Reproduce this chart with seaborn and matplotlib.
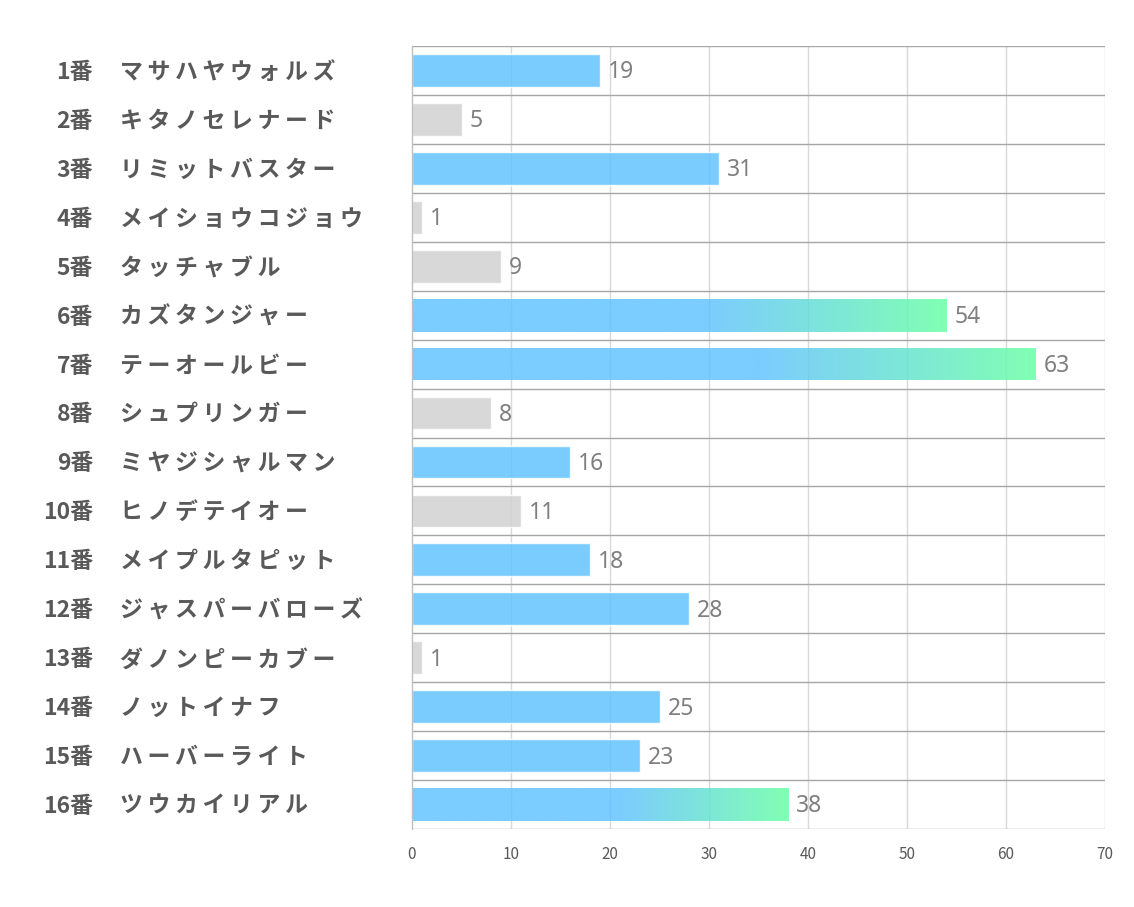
import numpy as np
import pandas as pd
import matplotlib
matplotlib.use("Agg")
import matplotlib.pyplot as plt
import seaborn as sns
from matplotlib.colors import LinearSegmentedColormap
import matplotlib.transforms as mtrans

numbers = ["1番", "2番", "3番", "4番", "5番", "6番", "7番", "8番",
           "9番", "10番", "11番", "12番", "13番", "14番", "15番", "16番"]
names = ["マサハヤウォルズ", "キタノセレナード", "リミットバスター", "メイショウコジョウ",
         "タッチャブル", "カズタンジャー", "テーオールビー", "シュプリンガー",
         "ミヤジシャルマン", "ヒノデテイオー", "メイプルタピット", "ジャスパーバローズ",
         "ダノンピーカブー", "ノットイナフ", "ハーバーライト", "ツウカイリアル"]
values = [19, 5, 31, 1, 9, 54, 63, 8, 16, 11, 18, 28, 1, 25, 23, 38]
xticks = [0, 10, 20, 30, 40, 50, 60, 70]

sns.set_theme(style="white")
plt.rcParams['font.family'] = ['Noto Sans CJK JP', 'DejaVu Sans']

BLUE = "#63C3FF"
GRAY = "#D2D2D2"
GREEN = "#6AFFA7"
ALPHA = 0.85

colors = [BLUE if v >= 15 else GRAY for v in values]

df = pd.DataFrame({"label": [f"{n}{m}" for n, m in zip(numbers, names)],
                   "value": values})

fig = plt.figure(figsize=(11.34, 9.07), dpi=100)
ax = fig.add_axes([412/1134, 1-829/907, (1105-412)/1134, (829-46)/907])

# vertical gridlines
for t in xticks[1:]:
    ax.axvline(t, color="#D9D9D9", lw=1, zorder=0)

sns.barplot(data=df, y="label", x="value", hue="label", palette=colors,
            orient="h", width=0.67, legend=False, ax=ax, alpha=ALPHA,
            saturation=1, zorder=2)

ax.set_xlim(0, 70)
ax.set_ylim(15.5, -0.5)

# gradient overlays for top bars
cmap = LinearSegmentedColormap.from_list("bg", [(0, BLUE), (0.55, BLUE), (1, GREEN)])
grad = np.linspace(0, 1, 256).reshape(1, -1)
for patch, v in zip(ax.patches, values):
    if v >= 38:
        x0, y0 = patch.get_x(), patch.get_y()
        w, h = patch.get_width(), patch.get_height()
        patch.set_alpha(0)
        im = ax.imshow(grad, cmap=cmap, aspect="auto",
                       extent=[x0, x0 + w, y0 + h, y0], alpha=ALPHA, zorder=2.5,
                       interpolation="bilinear")
        clip = plt.Rectangle((x0, y0), w, h, transform=ax.transData)
        im.set_clip_path(clip)

ax.set_xlim(0, 70)
ax.set_ylim(15.5, -0.5)

# row separators
ax.hlines(np.arange(-0.5, 16, 1), 0, 70, color="#A6A6A6", lw=1, zorder=1)

for s in ["top", "right", "bottom"]:
    ax.spines[s].set_visible(False)
ax.spines["left"].set_color("#BFBFBF")
ax.spines["left"].set_linewidth(1)

ax.set_xticks(xticks)
ax.set_xticklabels([str(t) for t in xticks], fontsize=11, color="#595959")
ax.tick_params(axis="x", length=0, pad=12)
ax.set_yticks([])
ax.set_xlabel("")
ax.set_ylabel("")

# value labels
for i, v in enumerate(values):
    ax.text(v + 0.8, i + 0.04, str(v), va="center", ha="left", fontsize=16.5,
            color="#7F7F7F", family=['Noto Sans', 'DejaVu Sans'])

# category labels
trans = mtrans.blended_transform_factory(fig.transFigure, ax.transData)
for i, (n, m) in enumerate(zip(numbers, names)):
    ax.text(93/1134, i + 0.04, n, transform=trans, ha="right", va="center",
            fontsize=16.5, fontweight="bold", color="#595959")
    ax.text(120/1134, i + 0.04, "\u2009".join(m), transform=trans, ha="left", va="center",
            fontsize=16.5, fontweight="bold", color="#595959",
            family=['Noto Sans CJK JP', 'DejaVu Sans'])

fig.savefig("out.png", dpi=100)
